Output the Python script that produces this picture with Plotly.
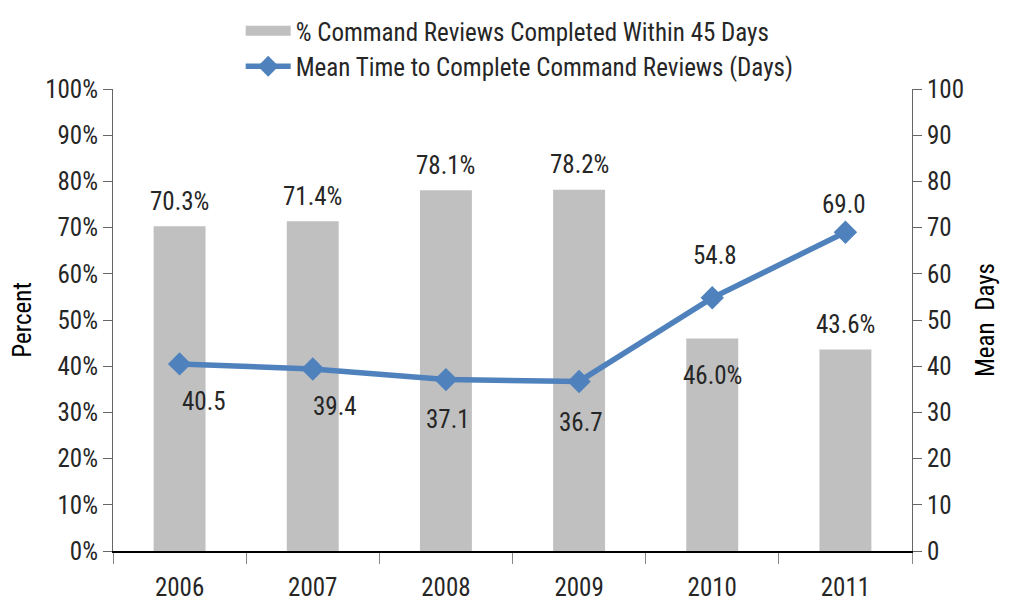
import plotly.graph_objects as go

years = ["2006", "2007", "2008", "2009", "2010", "2011"]
pct_within_45 = [70.3, 71.4, 78.1, 78.2, 46.0, 43.6]
mean_days = [40.5, 39.4, 37.1, 36.7, 54.8, 69.0]

pct_ticks = list(range(0, 101, 10))
pct_tick_labels = [f"{v}%" for v in pct_ticks]
day_ticks = list(range(0, 101, 10))

FONT = "Liberation Sans Narrow, Arial Narrow, Roboto Condensed, Liberation Sans, sans-serif"
TXT = "#262626"
BAR_NAME = "% Command Reviews Completed Within 45 Days"
LINE_NAME = "Mean Time to Complete Command Reviews (Days)"
FS = 25

fig = go.Figure()
fig.add_trace(
    go.Bar(
        x=years,
        y=pct_within_45,
        name=BAR_NAME,
        marker=dict(color="#C0C0C0", line=dict(width=0)),
        width=0.39,
        yaxis="y",
        showlegend=False,
    )
)
# legend-only entry so the bar key shows as a wide grey block
fig.add_trace(
    go.Scatter(
        x=[None], y=[None], name=BAR_NAME, mode="lines",
        line=dict(color="#C0C0C0", width=15), yaxis="y",
    )
)
fig.add_trace(
    go.Scatter(
        x=years,
        y=mean_days,
        name=LINE_NAME,
        mode="lines+markers",
        line=dict(color="#4F81BD", width=5.5),
        marker=dict(symbol="diamond", size=18, color="#4F81BD"),
        yaxis="y2",
    )
)

# label offsets (px) for data labels
bar_yshift = [25, 25, 25, 25, -37, 25]
line_yshift = [-38, -38, -40, -41, 42, 28]
line_xshift = [24, 22, 2, 2, 3, -1]

# annotations on a category axis: use the category index
for i, (v, dy) in enumerate(zip(pct_within_45, bar_yshift)):
    fig.add_annotation(
        x=i, y=v, yref="y", text=f"{v:.1f}%", showarrow=False,
        yshift=dy, font=dict(size=FS, color=TXT, family=FONT),
    )
for i, (v, dx, dy) in enumerate(zip(mean_days, line_xshift, line_yshift)):
    fig.add_annotation(
        x=i, y=v, yref="y2", text=f"{v:.1f}", showarrow=False,
        xshift=dx, yshift=dy, font=dict(size=FS, color=TXT, family=FONT),
    )

# page body adds an 8px offset, margins account for it
fig.update_layout(
    width=1011,
    height=603,
    margin=dict(l=105, r=107, t=72, b=60),
    paper_bgcolor="white",
    plot_bgcolor="white",
    font=dict(family=FONT, size=FS, color=TXT),
    legend=dict(
        x=0.509, xanchor="center",
        y=1.0, yanchor="top", yref="container",
        orientation="v", font=dict(size=FS, color=TXT),
        bgcolor="rgba(0,0,0,0)", itemwidth=45, tracegroupgap=2,
    ),
    xaxis=dict(
        type="category",
        range=[-0.5, len(years) - 0.5],
        automargin=False,
        showline=True, linecolor="#000000", linewidth=1.5,
        ticks="outside", tickson="boundaries", ticklen=11, tickcolor="#888888",
        ticklabelstandoff=13,
        tickfont=dict(size=FS, color=TXT),
        showgrid=False,
    ),
    yaxis=dict(
        range=[0, 100], tickvals=pct_ticks, ticktext=pct_tick_labels,
        automargin=False,
        showline=True, linecolor="#666666", linewidth=1,
        ticks="outside", ticklen=9, tickcolor="#666666",
        showgrid=False, zeroline=False,
        tickfont=dict(size=FS, color=TXT),
        title=dict(text="Percent", font=dict(size=FS, color="#000000"), standoff=8),
    ),
    yaxis2=dict(
        range=[0, 100], tickvals=day_ticks, overlaying="y", side="right",
        automargin=False,
        showline=True, linecolor="#666666", linewidth=1,
        ticks="outside", ticklen=9, tickcolor="#666666",
        showgrid=False, zeroline=False,
        tickfont=dict(size=FS, color=TXT),
        title=dict(text="Mean  Days", font=dict(size=FS, color="#000000"), standoff=13),
    ),
)

fig.write_html("out.html")
